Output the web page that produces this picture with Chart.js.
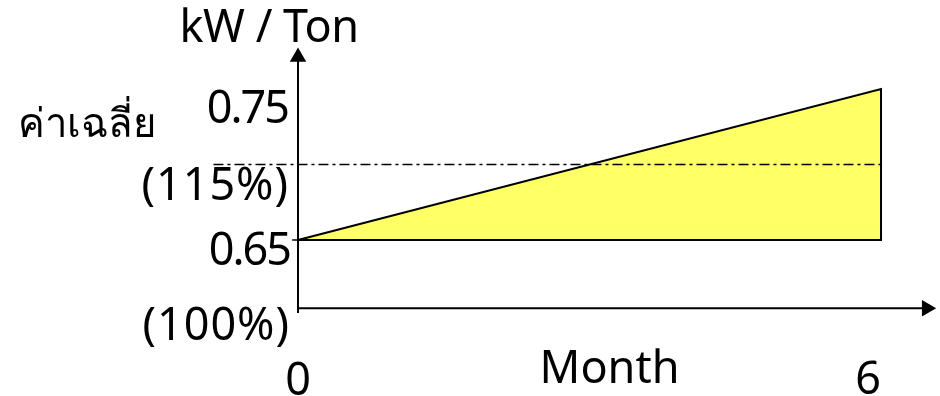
<!DOCTYPE html>
<html>
<head>
<meta charset="utf-8">
<script src="https://cdn.jsdelivr.net/npm/chart.js@4.4.1/dist/chart.umd.min.js"></script>
<style>
  html, body { margin: 0; padding: 0; background: #fff; overflow: hidden; }
</style>
</head>
<body>
<canvas id="chart" width="940" height="396"></canvas>
<script>
// values
const months = [0, 6];
const kwPerTon = [0.65, 0.75];      // slope line from month 0 to month 6
const baseline = 0.65;              // bottom edge of the yellow area
const average = 0.70;               // dash-dot line
const dashFrom = -0.87;             // dash-dot line starts left of the y axis
const yLabels = ['0.75', '(115%)', '0.65', '(100%)'];
const xLabels = ['0', '6'];
const yTitle = 'kW / Ton';
const xTitle = 'Month';
const sideLabel = 'ค่าเฉลี่ย';

// axis extents (value space)
const xAxisAt = 0.6048, xAxisEnd = 6.47;
const yAxisFrom = 0.6017, yAxisEnd = 0.7712;

const FONT = '45px "Noto Sans", "Open Sans", sans-serif';
const THAI_FONT = '40px "Noto Sans", sans-serif';

function label(ctx, text, x, y, spacing) {
  ctx.letterSpacing = (spacing || 0) + 'px';
  ctx.fillText(text, x, y);
  ctx.letterSpacing = '0px';
}

const textPlugin = {
  id: 'texts',
  afterDraw(chart) {
    const ctx = chart.ctx, x = chart.scales.x, y = chart.scales.y;
    const x0 = x.getPixelForValue(0);
    const yHi = y.getPixelForValue(kwPerTon[1]);
    const yLo = y.getPixelForValue(baseline);
    const yAx = y.getPixelForValue(xAxisAt);
    ctx.save();
    ctx.fillStyle = '#000';
    ctx.textBaseline = 'alphabetic';

    ctx.font = THAI_FONT;
    ctx.textAlign = 'left';
    ctx.fillText(sideLabel, x0 - 280, yHi + 48);

    ctx.font = FONT;
    ctx.textAlign = 'center';
    label(ctx, yTitle, x0 - 29, yHi - 47, -0.5);

    ctx.textAlign = 'right';
    label(ctx, yLabels[0], x0 - 10, yHi + 34, -2);
    label(ctx, yLabels[1], x0 - 9, yHi + 111, 1);
    label(ctx, yLabels[2], x0 - 8, yLo + 25, -2);
    label(ctx, yLabels[3], x0 - 8, yLo + 100, 1);

    ctx.textAlign = 'center';
    ctx.fillText(xLabels[0], x.getPixelForValue(months[0]), yAx + 87);
    ctx.fillText(xLabels[1], x.getPixelForValue(months[1]) - 13, yAx + 86);
    ctx.fillText(xTitle, x.getPixelForValue((months[0] + months[1]) / 2) + 20, yAx + 75);
    ctx.restore();
  }
};

new Chart(document.getElementById('chart'), {
  type: 'line',
  data: {
    datasets: [
      {
        // yellow area
        data: [
          { x: months[0], y: kwPerTon[0] },
          { x: months[1], y: kwPerTon[1] },
          { x: months[1], y: baseline },
          { x: months[0], y: baseline }
        ],
        fill: 'shape',
        backgroundColor: '#ffff66',
        borderColor: '#000',
        borderWidth: 2,
        pointRadius: 0,
        tension: 0,
        order: 2
      },
      {
        // dash-dot average
        data: [{ x: dashFrom, y: average }, { x: months[1], y: average }],
        borderColor: '#000',
        borderWidth: 1.5,
        borderDash: [10, 4, 3, 4],
        pointRadius: 0,
        fill: false,
        order: 1
      },
      {
        // x axis with arrow
        data: [{ x: 0, y: xAxisAt }, { x: xAxisEnd, y: xAxisAt }],
        borderColor: '#000',
        borderWidth: 2,
        pointRadius: [0, 9.5],
        pointStyle: 'triangle',
        pointRotation: 90,
        pointBackgroundColor: '#000',
        pointBorderWidth: 0,
        fill: false,
        order: 0
      },
      {
        // y axis with arrow
        data: [{ x: 0, y: yAxisFrom }, { x: 0, y: yAxisEnd }],
        borderColor: '#000',
        borderWidth: 2,
        pointRadius: [0, 9.5],
        pointStyle: 'triangle',
        pointRotation: 0,
        pointBackgroundColor: '#000',
        pointBorderWidth: 0,
        fill: false,
        order: 0
      },
      {
        // small tick at 0.65
        data: [{ x: -0.06, y: baseline }, { x: 0, y: baseline }],
        borderColor: '#000',
        borderWidth: 1.5,
        pointRadius: 0,
        fill: false,
        order: 0
      }
    ]
  },
  options: {
    responsive: false,
    animation: false,
    devicePixelRatio: 1,
    layout: { padding: 0, autoPadding: false },
    plugins: { legend: { display: false }, tooltip: { enabled: false } },
    scales: {
      x: { type: 'linear', min: -3.067, max: 6.607, display: false },
      y: { type: 'linear', min: 0.5467, max: 0.8089, display: false }
    }
  },
  plugins: [textPlugin]
});
</script>
</body>
</html>
